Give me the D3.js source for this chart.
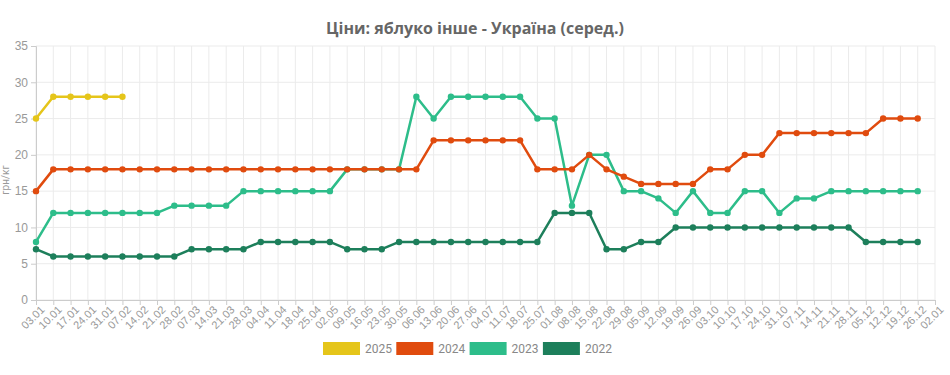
<!DOCTYPE html>
<html lang="uk">
<head>
<meta charset="utf-8">
<title>Ціни: яблуко інше - Україна (серед.)</title>
<script src="https://cdn.jsdelivr.net/npm/d3@7"></script>
<style>
  body { margin: 0; background: #fff; font-family: Roboto, "Open Sans", sans-serif; }
  .grid line { stroke: #ebebeb; }
  .axis text { fill: #999; }
</style>
</head>
<body>
<svg id="chart"></svg>
<script>
var weeks = ["03.01","10.01","17.01","24.01","31.01","07.02","14.02","21.02","28.02","07.03",
  "14.03","21.03","28.03","04.04","11.04","18.04","25.04","02.05","09.05","16.05","23.05",
  "30.05","06.06","13.06","20.06","27.06","04.07","11.07","18.07","25.07","01.08","08.08",
  "15.08","22.08","29.08","05.09","12.09","19.09","26.09","03.10","10.10","17.10","24.10",
  "31.10","07.11","14.11","21.11","28.11","05.12","12.12","19.12","26.12","02.01"];

var yearNames = ["2025", "2024", "2023", "2022"];

var v2025 = [25,28,28,28,28,28];
var v2024 = [15,18,18,18,18,18,18,18,18,18,18,18,18,18,18,18,18,18,18,18,18,18,18,22,22,22,22,22,22,
  18,18,18,20,18,17,16,16,16,16,18,18,20,20,23,23,23,23,23,23,25,25,25];
var v2023 = [8,12,12,12,12,12,12,12,13,13,13,13,15,15,15,15,15,15,18,18,18,18,28,25,28,28,28,28,28,
  25,25,13,20,20,15,15,14,12,15,12,12,15,15,12,14,14,15,15,15,15,15,15];
var v2022 = [7,6,6,6,6,6,6,6,6,7,7,7,7,8,8,8,8,8,7,7,7,8,8,8,8,8,8,8,8,
  8,12,12,12,7,7,8,8,10,10,10,10,10,10,10,10,10,10,10,8,8,8,8];

var yTicks = [0,5,10,15,20,25,30,35];
var colors = ["#e5c51a", "#e04b0e", "#2dbd8a", "#1d7f5b"];

var width = 950, height = 375;
var margin = {top: 46, right: 15, bottom: 75, left: 36};

var svg = d3.select("#chart").attr("width", width).attr("height", height);

var x = d3.scalePoint().domain(weeks).range([margin.left, width - margin.right]);
var y = d3.scaleLinear().domain([0, 35]).range([height - margin.bottom, margin.top]);

// title
svg.append("text")
  .attr("x", 475).attr("y", 34)
  .attr("text-anchor", "middle")
  .style("font-family", "'Open Sans', sans-serif")
  .style("font-size", "16px").style("font-weight", "bold")
  .style("fill", "#666")
  .text("Ціни: яблуко інше - Україна (серед.)");

// y label
svg.append("text")
  .attr("transform", "translate(9," + 180 + ") rotate(-90)")
  .attr("text-anchor", "middle")
  .style("font-size", "10px").style("fill", "#999")
  .text("грн/кг");

// grid
var grid = svg.append("g").attr("class", "grid");
grid.selectAll(".h").data(yTicks).enter().append("line")
  .attr("x1", margin.left).attr("x2", width - margin.right)
  .attr("y1", function(d){ return y(d); }).attr("y2", function(d){ return y(d); });
grid.selectAll(".v").data(weeks).enter().append("line")
  .attr("x1", function(d){ return x(d); }).attr("x2", function(d){ return x(d); })
  .attr("y1", margin.top).attr("y2", height - margin.bottom);

// y axis
var yAxis = svg.append("g").attr("class", "axis")
  .attr("transform", "translate(" + margin.left + ",0)")
  .call(d3.axisLeft(y).tickValues(yTicks).tickSize(5).tickPadding(3));
yAxis.select(".domain").attr("stroke", "#ccc");
yAxis.selectAll(".tick line").attr("stroke", "#ccc");
yAxis.selectAll("text").style("font-size", "12px");

// x axis
var xAxis = svg.append("g").attr("class", "axis")
  .attr("transform", "translate(0," + (height - margin.bottom) + ")")
  .call(d3.axisBottom(x).tickSize(5).tickSizeOuter(0));
xAxis.select(".domain").attr("stroke", "#ccc");
xAxis.selectAll(".tick line").attr("stroke", "#ccc");
xAxis.selectAll("text")
  .style("font-size", "11px")
  .style("text-anchor", "end")
  .attr("dx", "-0.1em").attr("dy", "0.5em")
  .attr("transform", "rotate(-45)");

// series
var series = [v2025, v2024, v2023, v2022];
var line = d3.line()
  .x(function(d, i){ return x(weeks[i]); })
  .y(function(d){ return y(d); });

series.slice().reverse().forEach(function(vals, k) {
  var idx = series.length - 1 - k;
  var g = svg.append("g");
  g.append("path").datum(vals)
    .attr("fill", "none").attr("stroke", colors[idx])
    .attr("stroke-width", 2.5).attr("stroke-linejoin", "round")
    .attr("d", line);
  g.selectAll("circle").data(vals).enter().append("circle")
    .attr("cx", function(d, i){ return x(weeks[i]); })
    .attr("cy", function(d){ return y(d); })
    .attr("r", 3.2)
    .attr("fill", colors[idx]);
});

// legend
var legend = svg.append("g").attr("transform", "translate(323,342)");
var item = legend.selectAll("g").data(yearNames).enter().append("g")
  .attr("transform", function(d, i){ return "translate(" + (i * 73.3) + ",0)"; });
item.append("rect")
  .attr("width", 37).attr("height", 13)
  .attr("fill", function(d, i){ return colors[i]; });
item.append("text")
  .attr("x", 42).attr("y", 11)
  .style("font-size", "12px").style("fill", "#888")
  .text(function(d){ return d; });
</script>
</body>
</html>
